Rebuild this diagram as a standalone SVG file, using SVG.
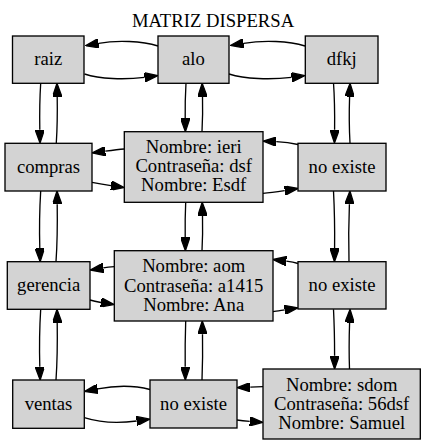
<svg xmlns="http://www.w3.org/2000/svg" width="426" height="445" viewBox="0 0 426 445">
<style>
text{font-family:"Liberation Serif","Tinos","Times New Roman","DejaVu Serif",serif;font-size:18.67px;fill:#000;text-anchor:middle}
.n rect{fill:#d3d3d3;stroke:#000;stroke-width:1.33}
.e path{fill:none;stroke:#000;stroke-width:1.33;marker-end:url(#ah)}
</style>
<defs>
<marker id="ah" viewBox="0 0 10 7" refX="0" refY="3.5" markerWidth="13.3" markerHeight="9.3" markerUnits="userSpaceOnUse" orient="auto">
<path d="M0,0 L10,3.5 L0,7 z" fill="#000" stroke="#000" stroke-width="1"/>
</marker>
</defs>
<rect width="426" height="445" fill="#fff"/>
<text x="213" y="26.5" font-family="Liberation Serif, serif">MATRIZ DISPERSA</text>
<g class="e" id="edges">
<path d="M158,46 C142,41 117,40 98.6,43.3"/>
<path d="M84.5,74 C100,79 124,80 144.6,77.3"/>
<path d="M305,46 C289,41 264,40 243.6,43.3"/>
<path d="M229,74 C245,79 270,80 291.6,77.3"/>
<path d="M40.7,83 C39.8,97 39.5,112 39.8,129.7"/>
<path d="M56.3,143 C57.2,129 57.5,114 57.2,96.6"/>
<path d="M186,83 C185.3,95 185,105 185.2,118.4"/>
<path d="M202,131.7 C202.6,120 202.8,108 202.5,96.6"/>
<path d="M333.5,83 C334.5,97 334.8,112 334.6,129.7"/>
<path d="M350,143 C349.2,129 349,114 349.6,96.6"/>
<path d="M124.3,149 C118,149.5 112,150.3 105.3,151.2"/>
<path d="M92,182.3 C98,183.5 104,184.6 111,185.6"/>
<path d="M298,144.5 C292,143 287,142 276.3,141.6"/>
<path d="M263,193.3 C268,193 274,192.3 284.7,190.6"/>
<path d="M40.7,191 C39.5,210 39.3,230 39.8,248.4"/>
<path d="M56,261.7 C57.3,243 57.5,224 57.2,204.3"/>
<path d="M185.7,202.3 C185.2,213 185,224 185.2,237.4"/>
<path d="M202,250.7 C202.6,240 202.8,229 202.5,215.6"/>
<path d="M333.5,191 C334.5,210 334.8,230 334.6,248.4"/>
<path d="M349,261.7 C348.5,243 348.6,224 349.4,204.3"/>
<path d="M114.3,266.7 C110,267 107,267.3 103.3,267.9"/>
<path d="M90,300 C93,301 96,301.7 101,302.5"/>
<path d="M298,263.5 C295,262.5 292,261.8 286.3,261.1"/>
<path d="M273,311.7 C276,311.3 279,310.8 284.7,309.9"/>
<path d="M40.7,309.3 C39.5,328 39.3,348 39.8,366.7"/>
<path d="M56,380 C57.3,361 57.5,342 57.2,322.6"/>
<path d="M185.7,321 C185.2,336 185,350 185.2,366.7"/>
<path d="M202,380 C202.6,365 202.8,350 202.5,334.3"/>
<path d="M333.5,309.3 C334.3,325 334.6,340 334.6,355.7"/>
<path d="M349.5,369 C349,355 349,340 349.6,322.6"/>
<path d="M150,389.5 C135,385.5 115,385.5 97.6,388.9"/>
<path d="M84.3,417.7 C100,422.7 120,423.3 136.7,421"/>
<path d="M263,386.7 C260,386.8 256,387 250.3,387.2"/>
<path d="M237,420 C240,420.5 244,421 249.7,421.4"/>
</g>
<g class="n" id="raiz"><rect x="12.5" y="36" width="71.5" height="47.3"/><text x="48.3" y="65.3">raiz</text></g>
<g class="n" id="alo"><rect x="158" y="36" width="71" height="47.3"/><text x="193.5" y="65.3">alo</text></g>
<g class="n" id="dfkj"><rect x="305.3" y="36" width="72.7" height="47.3"/><text x="341.7" y="65.3">dfkj</text></g>
<g class="n" id="compras"><rect x="5" y="143.3" width="87" height="47.7"/><text x="48.5" y="172.7">compras</text></g>
<g class="n" id="ieri"><rect x="124.3" y="131.7" width="138.7" height="70.6"/><text x="193.7" y="153">Nombre: ieri</text><text x="193.7" y="172.2">Contraseña: dsf</text><text x="193.7" y="191.3">Nombre: Esdf</text></g>
<g class="n" id="noexiste1"><rect x="298" y="143.3" width="88" height="47.7"/><text x="342" y="172.7">no existe</text></g>
<g class="n" id="gerencia"><rect x="7.3" y="261.7" width="82.7" height="47.6"/><text x="48.7" y="291">gerencia</text></g>
<g class="n" id="aom"><rect x="114.3" y="250.7" width="158.7" height="70.3"/><text x="193.7" y="272.3">Nombre: aom</text><text x="193.7" y="291.5">Contraseña: a1415</text><text x="193.7" y="310.5">Nombre: Ana</text></g>
<g class="n" id="noexiste2"><rect x="298" y="261.7" width="88" height="47.3"/><text x="342" y="291">no existe</text></g>
<g class="n" id="ventas"><rect x="12.7" y="380" width="71.6" height="48.3"/><text x="48.5" y="409.5">ventas</text></g>
<g class="n" id="noexiste3"><rect x="150" y="380" width="87" height="48"/><text x="193.5" y="409.5">no existe</text></g>
<g class="n" id="sdom"><rect x="263" y="369" width="157.3" height="70"/><text x="341.7" y="390.7">Nombre: sdom</text><text x="341.7" y="410">Contraseña: 56dsf</text><text x="341.7" y="429">Nombre: Samuel</text></g>
</svg>
